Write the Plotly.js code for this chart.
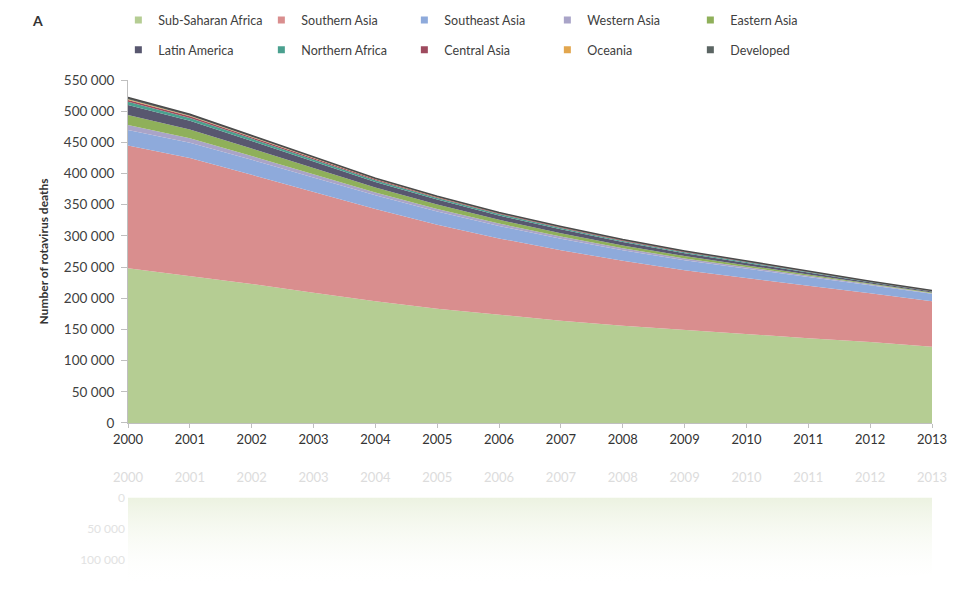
<!DOCTYPE html>
<html><head><meta charset="utf-8">
<script src="https://cdn.plot.ly/plotly-3.0.1.min.js"></script>
<style>html,body{margin:0;padding:0;background:#fff}#chart{width:966px;height:590px}</style>
</head><body><div id="chart"></div>
<script>
// ---- data (number of rotavirus deaths) ----
const years = [2000,2001,2002,2003,2004,2005,2006,2007,2008,2009,2010,2011,2012,2013];
const yearLabels = ['2000','2001','2002','2003','2004','2005','2006','2007','2008','2009','2010','2011','2012','2013'];
const subSaharanAfrica = [248000,236000,223000,209000,195000,183000,173000,164000,156000,149000,142000,136000,130000,122000];
const southernAsia     = [197000,189000,175000,161000,148000,135000,123000,113000,104000,96000,90000,84000,78000,73000];
const southeastAsia    = [25000,24500,24000,23000,22000,21000,20000,18500,17000,16000,15000,14000,13000,12000];
const westernAsia      = [8000,7000,6000,5500,4500,4200,3800,3600,3200,2900,2500,1900,1300,1100];
const easternAsia      = [16000,14000,12000,10000,8000,7000,6000,5200,4400,3700,3000,2200,1500,1100];
const latinAmerica     = [16000,14000,12000,10500,9000,8000,7000,6200,5400,4600,3800,3000,2000,1600];
const northernAfrica   = [5000,4500,4000,3500,2800,2500,2200,2100,1900,1700,1400,1100,700,600];
const centralAsia      = [3000,2700,2300,2000,1600,1400,1200,1200,1100,1000,900,700,500,400];
const oceania          = [1000,900,800,700,600,500,400,400,350,300,300,200,150,150];
const developed        = [3000,2400,1900,1300,1000,1000,900,900,850,700,600,400,250,250];
const yTickVals = [0,50000,100000,150000,200000,250000,300000,350000,400000,450000,500000,550000];
const yTickText = ['0','50 000','100 000','150 000','200 000','250 000','300 000','350 000','400 000','450 000','500 000','550 000'];
const reflTickVals = [0,50000,100000];
const reflTickText = ['0','50 000','100 000'];

const series = [
  {name:'Sub-Saharan Africa', y:subSaharanAfrica, color:'#b5cd93', row:1},
  {name:'Southern Asia',      y:southernAsia,     color:'#d98e8e', row:1},
  {name:'Southeast Asia',     y:southeastAsia,    color:'#8eaadb', row:1},
  {name:'Western Asia',       y:westernAsia,      color:'#a9a4c8', row:1},
  {name:'Eastern Asia',       y:easternAsia,      color:'#8fb05a', row:1},
  {name:'Latin America',      y:latinAmerica,     color:'#58576f', row:2},
  {name:'Northern Africa',    y:northernAfrica,   color:'#4aa08f', row:2},
  {name:'Central Asia',       y:centralAsia,      color:'#9e4a5e', row:2},
  {name:'Oceania',            y:oceania,          color:'#e2a64e', row:2},
  {name:'Developed',          y:developed,        color:'#5b6563', row:2}
];

const traces = [];
series.forEach((s, i) => {
  const top = i === series.length - 1;
  traces.push({
    type:'scatter', x:years, y:s.y, name:s.name, stackgroup:'one', mode:'lines',
    line:{width: top ? 1.5 : 0, color: top ? '#4a4a4a' : s.color},
    fillcolor:s.color, showlegend:false, legendgroup:s.name, hoverinfo:'x+y+name'
  });
});
series.forEach((s) => {
  traces.push({
    type:'scatter', x:[null], y:[null], name:s.name, mode:'markers',
    marker:{symbol:'square', size:7, color:s.color},
    legendgroup:s.name, legend: s.row === 1 ? 'legend' : 'legend2', showlegend:true
  });
});
// faded reflection of the bottom series
traces.push({
  type:'scatter', x:years, y:subSaharanAfrica, xaxis:'x2', yaxis:'y2', mode:'lines',
  line:{width:0, color:'rgba(0,0,0,0)'}, fill:'tozeroy', showlegend:false, hoverinfo:'skip',
  fillgradient:{type:'vertical', start:0, stop:140000,
    colorscale:[[0,'rgba(195,215,160,0.32)'],[0.6,'rgba(230,238,215,0.15)'],[1,'rgba(255,255,255,0)']]}
});

const legendCommon = {
  orientation:'h', xanchor:'left', yanchor:'middle', entrywidth:98, entrywidthmode:'pixels',
  font:{family:'Lato, sans-serif', size:12.5, color:'#404040'}, bgcolor:'rgba(0,0,0,0)',
  itemwidth:30, traceorder:'normal'
};

const layout = {
  width:966, height:590,
  margin:{l:128, r:34, t:77, b:5},
  paper_bgcolor:'#ffffff', plot_bgcolor:'rgba(0,0,0,0)',
  font:{family:'Lato, sans-serif', size:12, color:'#404040'},
  showlegend:true,
  legend:Object.assign({x:-0.012, y:1.118}, legendCommon),
  legend2:Object.assign({x:-0.012, y:1.059}, legendCommon),
  xaxis:{domain:[0,1], anchor:'y', range:[2000,2013], tickvals:years, ticktext:yearLabels,
    showline:true, linecolor:'#bfbfbf', ticks:'outside', ticklen:4, tickcolor:'#bfbfbf',
    showgrid:false, zeroline:false, tickfont:{size:13, color:'#333'}},
  yaxis:{domain:[0.3209,1], anchor:'x', range:[0,550000], tickvals:yTickVals, ticktext:yTickText,
    showline:true, linecolor:'#bfbfbf', ticks:'outside', ticklen:6, tickcolor:'#bfbfbf',
    ticklabelstandoff:4,
    showgrid:false, zeroline:false, tickfont:{size:13.5, color:'#404040'},
    title:{text:'Number of rotavirus deaths', font:{size:12, color:'#333', weight:'bold'}, standoff:12}},
  xaxis2:{domain:[0,1], anchor:'y2', side:'top', range:[2000,2013], tickvals:years, ticktext:yearLabels,
    showline:false, ticks:'', showgrid:false, zeroline:false, ticklabelstandoff:12,
    tickfont:{size:13, color:'#dcdcdc'}},
  yaxis2:{domain:[0,0.1732], anchor:'x2', range:[140000,0], tickvals:reflTickVals, ticktext:reflTickText,
    showline:false, ticks:'', showgrid:false, zeroline:false, ticklabelstandoff:2,
    tickfont:{size:12, color:'#e2e2e2'}},
  annotations:[{text:'A', xref:'paper', yref:'paper', x:-0.112, y:1.118, xanchor:'center', yanchor:'middle',
    showarrow:false, font:{size:14, color:'#333', weight:'bold'}}]
};

Plotly.newPlot('chart', traces, layout, {displayModeBar:false, staticPlot:true});
</script>
</body></html>
